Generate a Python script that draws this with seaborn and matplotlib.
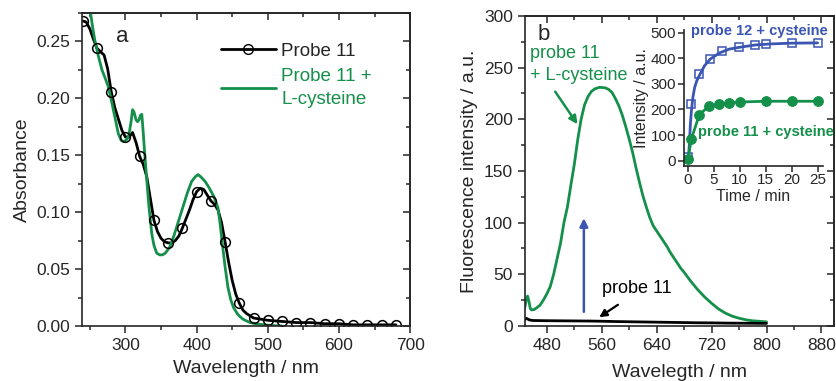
import numpy as np
import pandas as pd
import seaborn as sns
import matplotlib.pyplot as plt
from matplotlib.lines import Line2D
from matplotlib.ticker import MultipleLocator, FormatStrFormatter

# DATA - panel a (absorbance)
wl_black = [240, 245, 250, 255, 260, 265, 270, 275, 280, 285, 290, 295, 300, 305, 310, 315,
            320, 325, 330, 335, 340, 345, 350, 355, 360, 365, 370, 375, 380, 385, 390, 395,
            400, 405, 410, 415, 420, 425, 430, 435, 440, 445, 450, 455, 460, 465, 470, 475,
            480, 490, 500, 520, 540, 560, 580, 600, 620, 640, 660, 680]
abs_black = [0.268, 0.267, 0.261, 0.252, 0.244, 0.241, 0.238, 0.226, 0.206, 0.192, 0.182, 0.172,
             0.166, 0.166, 0.170, 0.161, 0.149, 0.142, 0.131, 0.112, 0.093, 0.083, 0.077, 0.074,
             0.073, 0.073, 0.075, 0.079, 0.086, 0.094, 0.102, 0.111, 0.118, 0.121, 0.120, 0.115,
             0.110, 0.107, 0.102, 0.091, 0.074, 0.056, 0.040, 0.028, 0.020, 0.014, 0.011, 0.009,
             0.007, 0.006, 0.005, 0.004, 0.003, 0.003, 0.002, 0.002, 0.001, 0.001, 0.001, 0.001]
wl_marks = [240, 260, 280, 300, 320, 340, 360, 380, 400, 420, 440, 460, 480, 500, 520, 540,
            560, 580, 600, 620, 640, 660, 680]
abs_marks = [0.268, 0.244, 0.206, 0.166, 0.149, 0.093, 0.073, 0.086, 0.118, 0.110, 0.074, 0.020,
             0.007, 0.005, 0.004, 0.003, 0.003, 0.002, 0.002, 0.001, 0.001, 0.001, 0.001]
wl_green = [248, 251, 254, 257, 262, 267, 272, 276, 280, 283, 287, 290, 294, 298, 302, 305,
            308, 310, 312, 315, 317, 319, 321, 323, 325, 327, 330, 333, 337, 340, 344, 348,
            352, 356, 362, 368, 375, 381, 387, 393, 398, 402, 406, 412, 418, 424, 430, 433,
            436, 440, 444, 448, 452, 458, 465, 475, 485, 495, 508, 520]
abs_green = [0.29, 0.275, 0.262, 0.251, 0.237, 0.225, 0.217, 0.210, 0.199, 0.190, 0.178, 0.169,
             0.163, 0.162, 0.164, 0.168, 0.180, 0.190, 0.188, 0.181, 0.1795, 0.181, 0.185, 0.186,
             0.170, 0.152, 0.128, 0.105, 0.081, 0.071, 0.064, 0.0625, 0.0625, 0.064, 0.069, 0.079,
             0.093, 0.105, 0.117, 0.127, 0.131, 0.133, 0.131, 0.127, 0.121, 0.114, 0.104, 0.090,
             0.073, 0.052, 0.034, 0.023, 0.016, 0.010, 0.006, 0.003, 0.0018, 0.001, 0.0003, 0.0]

# DATA - panel b (fluorescence)
wl_fl_green = [448, 450, 452, 454, 456, 458, 462, 466, 470, 475, 480, 485, 490, 495, 500, 505,
               510, 515, 520, 525, 530, 535, 540, 545, 550, 557, 565, 570, 575, 580, 585, 590,
               595, 600, 605, 610, 615, 620, 625, 630, 635, 640, 645, 650, 655, 660, 665, 670,
               675, 680, 690, 700, 710, 720, 730, 740, 750, 760, 770, 780, 790, 800]
fl_green = [18, 25, 29, 24, 17, 15.5, 16, 18, 20, 25, 31, 38, 50, 65, 80, 100,
            115, 136, 156, 180, 200, 214, 222, 227, 229.5, 231, 230.5, 229, 226, 220, 213, 204,
            193, 181, 168, 153, 139, 126, 115, 105, 97, 92, 87, 82, 77, 71, 66, 61,
            56, 52, 43, 35, 28, 22, 16.5, 12.5, 9.5, 7.5, 6, 5, 4.5, 4]
wl_fl_black = [448, 450, 452, 455, 460, 470, 480, 500, 520, 540, 560, 580, 600, 620, 640, 660,
               680, 700, 720, 740, 760, 780, 800]
fl_black = [6, 7.5, 6.8, 5.8, 5.3, 5.2, 5.1, 5.0, 4.9, 4.8, 4.6, 4.3, 4.1, 3.9, 3.7, 3.5,
            3.3, 3.1, 3.0, 2.8, 2.7, 2.6, 2.5]

# DATA - inset (kinetics)
t_p12 = [0, 0.6, 2.2, 4.3, 6.6, 9.9, 13, 15, 20, 25]
int_p12 = [16, 223, 337, 398, 427, 444, 452, 456, 460, 460]
t_fit12 = [0.1, 0.3, 0.45, 0.64, 0.96, 1.3, 1.7, 2.2, 3.2, 4.3, 6.1, 8, 10, 13, 16, 20, 25]
int_fit12 = [9, 74, 138, 190, 249, 287, 312, 333, 371, 397, 421, 436, 443, 452, 456, 459, 460]
t_p11 = [0, 0.64, 2.2, 4, 6, 8, 10, 15, 20, 25]
int_p11 = [6, 84, 180, 212, 221, 227, 229, 232, 232, 232]

GREEN = '#15904a'
BLUE = '#3b55b3'

sns.set_style('ticks')
plt.rcParams['font.family'] = ['Liberation Sans', 'DejaVu Sans']
plt.rcParams['axes.linewidth'] = 1.2

fig = plt.figure(figsize=(8.37, 3.81), dpi=100)
ax1 = fig.add_axes([0.098, 0.1444, 0.392, 0.8215])
ax2 = fig.add_axes([0.627, 0.1444, 0.370, 0.8136])
ax3 = fig.add_axes([0.817, 0.565, 0.166, 0.356])


def mirror_ticks(ax, xmaj, xmin, ymaj, ymin):
    top = ax.secondary_xaxis('top')
    top.xaxis.set_major_locator(MultipleLocator(xmaj))
    top.xaxis.set_minor_locator(MultipleLocator(xmin))
    top.tick_params(which='both', direction='in', labeltop=False, width=1.1)
    top.tick_params(which='major', length=5)
    top.tick_params(which='minor', length=3)
    right = ax.secondary_yaxis('right')
    right.yaxis.set_major_locator(MultipleLocator(ymaj))
    right.yaxis.set_minor_locator(MultipleLocator(ymin))
    right.tick_params(which='both', direction='in', labelright=False, width=1.1)
    right.tick_params(which='major', length=5)
    right.tick_params(which='minor', length=3)


# PANEL A
sns.lineplot(x=wl_black, y=abs_black, ax=ax1, color='black', lw=2)
sns.lineplot(x=wl_green, y=abs_green, ax=ax1, color=GREEN, lw=2)
ax1.plot(wl_marks, abs_marks, ls='none', marker='o', ms=7, mfc='none', mec='black', mew=1.1)
ax1.set_xlim(239, 700)
ax1.set_ylim(0, 0.275)
ax1.xaxis.set_major_locator(MultipleLocator(100))
ax1.xaxis.set_minor_locator(MultipleLocator(50))
ax1.yaxis.set_major_locator(MultipleLocator(0.05))
ax1.yaxis.set_minor_locator(MultipleLocator(0.025))
ax1.yaxis.set_major_formatter(FormatStrFormatter('%.2f'))
ax1.tick_params(which='both', direction='out', labelsize=12.5, width=1.1)
ax1.tick_params(which='major', length=5)
ax1.tick_params(which='minor', length=3)
ax1.set_xlabel('Wavelength / nm', fontsize=14, labelpad=5)
ax1.set_ylabel('Absorbance', fontsize=14, labelpad=4)
mirror_ticks(ax1, 100, 50, 0.05, 0.025)
ax1.text(296, 0.254, 'a', fontsize=16, ha='center', va='center')
handles = [Line2D([], [], color='black', lw=2, marker='o', ms=7, mfc='none', mec='black'),
           Line2D([], [], color=GREEN, lw=2)]
leg = ax1.legend(handles, ['Probe 11', 'Probe 11 +\nL-cysteine'], loc='upper right',
                 bbox_to_anchor=(0.935, 0.96), frameon=False, fontsize=13.5,
                 handlelength=2.9, handletextpad=0.3, labelspacing=0.45)
leg.get_texts()[1].set_color(GREEN)
leg.get_texts()[1].set_linespacing(1.45)

# PANEL B
sns.lineplot(x=wl_fl_green, y=fl_green, ax=ax2, color=GREEN, lw=2)
sns.lineplot(x=wl_fl_black, y=fl_black, ax=ax2, color='black', lw=2)
ax2.set_xlim(448, 899)
ax2.set_ylim(0, 300)
ax2.xaxis.set_major_locator(MultipleLocator(80))
ax2.xaxis.set_minor_locator(MultipleLocator(40))
ax2.yaxis.set_major_locator(MultipleLocator(50))
ax2.yaxis.set_minor_locator(MultipleLocator(25))
ax2.tick_params(which='both', direction='out', labelsize=12.5, width=1.1)
ax2.tick_params(which='major', length=5)
ax2.tick_params(which='minor', length=3)
ax2.set_xlabel('Wavelegth / nm', fontsize=14, labelpad=8)
ax2.set_ylabel('Fluorescence intensity / a.u.', fontsize=14, labelpad=4)
mirror_ticks(ax2, 80, 40, 50, 25)
ax2.text(476, 282, 'b', fontsize=16, ha='center', va='center')
ax2.text(456, 253, 'probe 11\n+ L-cysteine', color=GREEN, fontsize=13, ha='left', va='center',
         linespacing=1.35)
ax2.annotate('', xy=(527, 193), xytext=(490, 229),
             arrowprops=dict(arrowstyle='-|>', color=GREEN, lw=1.8, mutation_scale=12))
ax2.annotate('', xy=(534, 107), xytext=(534, 11),
             arrowprops=dict(arrowstyle='-|>', color=BLUE, lw=1.8, mutation_scale=12))
ax2.text(561, 36, 'probe 11', color='black', fontsize=13, ha='left', va='center')
ax2.annotate('', xy=(553, 7), xytext=(587, 22),
             arrowprops=dict(arrowstyle='-|>', color='black', lw=1.6, mutation_scale=11))

# INSET
ax3.set_facecolor('none')
sns.lineplot(x=t_fit12, y=int_fit12, ax=ax3, color=BLUE, lw=2)
ax3.plot(t_p12, int_p12, ls='none', marker='s', ms=6, mfc='none', mec=BLUE, mew=1.1)
sns.lineplot(x=t_p11, y=int_p11, ax=ax3, color=GREEN, lw=2, marker='o', ms=7,
             mec=GREEN, mfc=GREEN)
ax3.set_xlim(-0.8, 26)
ax3.set_ylim(-20, 510)
ax3.xaxis.set_major_locator(MultipleLocator(5))
ax3.yaxis.set_major_locator(MultipleLocator(100))
ax3.tick_params(which='both', direction='out', labelsize=11, width=1.1, length=4, pad=1.5)
ax3.set_xlabel('Time / min', fontsize=11.5, labelpad=1)
ax3.set_ylabel('Intensity / a.u.', fontsize=11.5, labelpad=1)
sns.despine(ax=ax3)
ax3.text(0.5, 507, 'probe 12 + cysteine', color=BLUE, fontsize=10.5, fontweight='bold',
         ha='left', va='center')
ax3.text(1.9, 110, 'probe 11 + cysteine', color=GREEN, fontsize=10.5, fontweight='bold',
         ha='left', va='center')

fig.savefig('out.png', dpi=100)
